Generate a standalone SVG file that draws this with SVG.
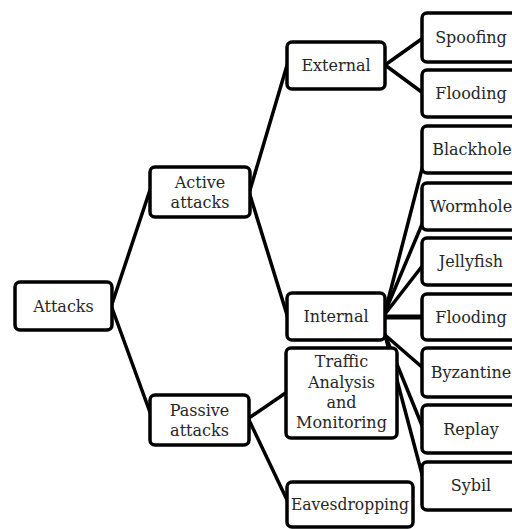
<svg xmlns="http://www.w3.org/2000/svg" width="512" height="529" viewBox="0 0 512 529">
<style>
.box{fill:#fff;stroke:#000;stroke-width:3.5}
.t{font-family:'DejaVu Serif',serif;font-size:16px;fill:#262626;text-anchor:middle}
.c line{stroke:#000;stroke-width:3.5;stroke-linecap:round}
</style>
<rect width="512" height="529" fill="#fff"/>
<g class="c" id="connectors">
<line x1="112" y1="304" x2="150" y2="190"/>
<line x1="112" y1="308" x2="151" y2="415"/>
<line x1="250" y1="190" x2="288" y2="62"/>
<line x1="250" y1="195" x2="288" y2="318"/>
<line x1="249" y1="418" x2="287" y2="392"/>
<line x1="249" y1="420" x2="288" y2="502"/>
<line x1="385" y1="65" x2="423" y2="38"/>
<line x1="385" y1="65" x2="423" y2="93"/>
<line x1="385" y1="312" x2="423" y2="165"/>
<line x1="385" y1="312" x2="423" y2="222"/>
<line x1="385" y1="314" x2="423" y2="265"/>
<line x1="385" y1="317" x2="423" y2="317" style="stroke-width:5"/>
<line x1="385" y1="335" x2="423" y2="368"/>
<line x1="385" y1="335" x2="423" y2="428"/>
<line x1="385" y1="335" x2="423" y2="478"/>
</g>
<g id="attacks"><rect class="box" x="15" y="282" width="97" height="48" rx="5"/><text class="t" x="63.5" y="312">Attacks</text></g>
<g id="active"><rect class="box" x="150" y="167" width="100" height="50" rx="5"/><text class="t" x="200" y="188">Active</text><text class="t" x="200" y="208">attacks</text></g>
<g id="passive"><rect class="box" x="150" y="395" width="99" height="50" rx="5"/><text class="t" x="199.5" y="416">Passive</text><text class="t" x="199.5" y="436">attacks</text></g>
<g id="external"><rect class="box" x="287" y="42" width="98" height="47" rx="5"/><text class="t" x="336" y="71">External</text></g>
<g id="internal"><rect class="box" x="287" y="293" width="98" height="47" rx="5"/><text class="t" x="336" y="322">Internal</text></g>
<g id="traffic"><rect class="box" x="286" y="348" width="111" height="90" rx="5"/><text class="t" x="341.5" y="367">Traffic</text><text class="t" x="341.5" y="388">Analysis</text><text class="t" x="341.5" y="408">and</text><text class="t" x="341.5" y="428">Monitoring</text></g>
<g id="eavesdropping"><rect class="box" x="287" y="482" width="126" height="45" rx="5"/><text class="t" x="350" y="510" textLength="118" lengthAdjust="spacingAndGlyphs">Eavesdropping</text></g>
<g id="spoofing"><rect class="box" x="422" y="13" width="96" height="49" rx="5"/><text class="t" x="471" y="43">Spoofing</text></g>
<g id="flooding1"><rect class="box" x="422" y="70" width="96" height="47" rx="5"/><text class="t" x="471" y="99">Flooding</text></g>
<g id="blackhole"><rect class="box" x="422" y="126" width="96" height="47" rx="5"/><text class="t" x="472" y="155">Blackhole</text></g>
<g id="wormhole"><rect class="box" x="422" y="183" width="96" height="47" rx="5"/><text class="t" x="471" y="212">Wormhole</text></g>
<g id="jellyfish"><rect class="box" x="422" y="238" width="96" height="47" rx="5"/><text class="t" x="471" y="267">Jellyfish</text></g>
<g id="flooding2"><rect class="box" x="422" y="294" width="96" height="46" rx="5"/><text class="t" x="471" y="323">Flooding</text></g>
<g id="byzantine"><rect class="box" x="422" y="348" width="96" height="49" rx="5"/><text class="t" x="471" y="378">Byzantine</text></g>
<g id="replay"><rect class="box" x="422" y="405" width="96" height="48" rx="5"/><text class="t" x="471" y="435">Replay</text></g>
<g id="sybil"><rect class="box" x="422" y="462" width="96" height="48" rx="5"/><text class="t" x="471" y="491">Sybil</text></g>
</svg>
